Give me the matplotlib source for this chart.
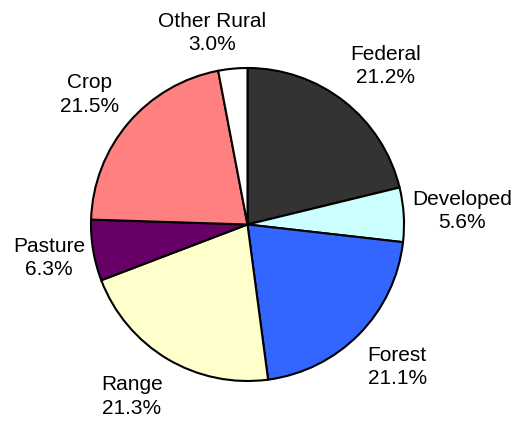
import numpy as np
import matplotlib
matplotlib.use("Agg")
import matplotlib.pyplot as plt

categories = ["Federal", "Developed", "Forest", "Range", "Pasture", "Crop", "Other Rural"]
values = [21.2, 5.6, 21.1, 21.3, 6.3, 21.5, 3.0]
colors = ["#333333", "#CCFFFF", "#3366FF", "#FFFFCC", "#660066", "#FF8080", "#FFFFFF"]

# label layout: radial distance (in pie radii) and angular nudge (degrees)
label_r = [1.344, 1.374, 1.320, 1.324, 1.286, 1.308, 1.245]
label_dang = [-2.9, 0.0, 0.9, -3.1, 0.1, 1.1, 5.1]

W, H, DPI = 515, 424, 100
fig = plt.figure(figsize=(W / DPI, H / DPI), dpi=DPI)
ax = fig.add_axes([0, 0, 1, 1])

cx, cy, R = 247.5, 424 - 224.5, 156.5  # pixel geometry of pie
ax.axis("off")

wedges, _ = ax.pie(values, colors=colors, startangle=90, counterclock=False,
                   radius=1.0, center=(0, 0), frame=False,
                   wedgeprops=dict(edgecolor="black", linewidth=1.5))
ax.set_aspect("auto")
ax.set_xlim(-cx / R, (W - cx) / R)
ax.set_ylim(-cy / R, (H - cy) / R)

for w, name, v, r, da in zip(wedges, categories, values, label_r, label_dang):
    mid = np.deg2rad((w.theta1 + w.theta2) / 2 + da)
    ax.text(r * np.cos(mid), r * np.sin(mid), f"{name}\n{v:.1f}%",
            ha="center", va="center", fontsize=15,
            family=["Liberation Sans", "DejaVu Sans"], linespacing=1.3)

fig.savefig("out.png", dpi=DPI)
